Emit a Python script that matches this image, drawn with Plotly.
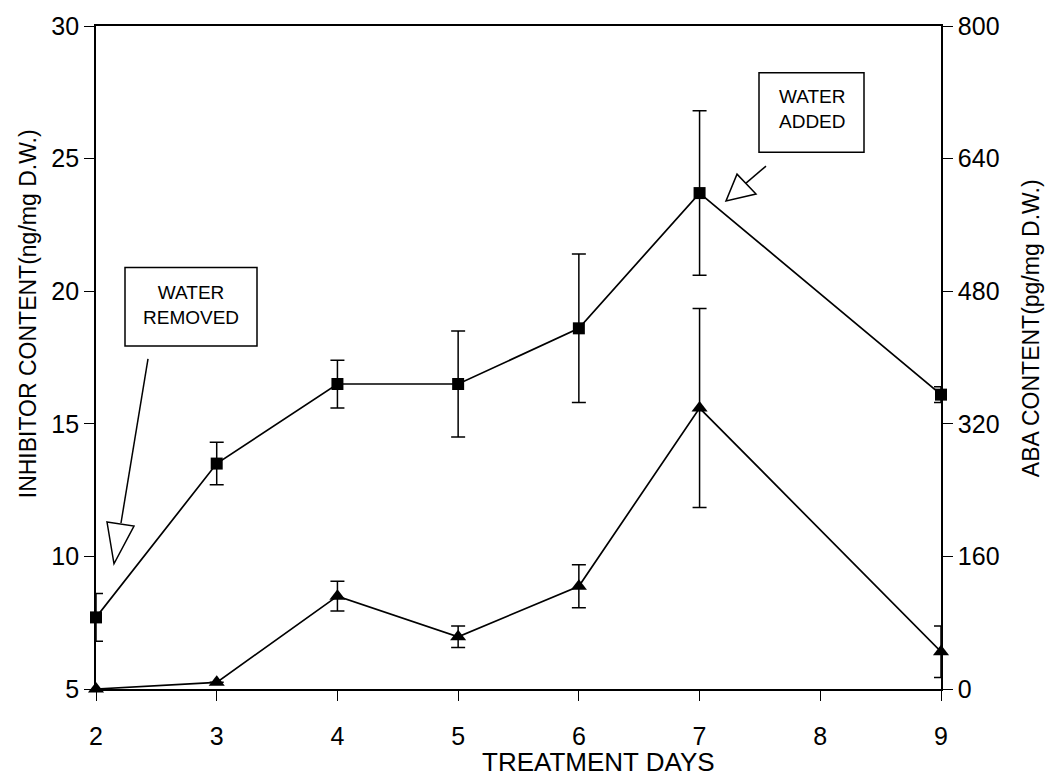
import plotly.graph_objects as go

# ---- data ----
days = [2, 3, 4, 5, 6, 7, 9]
inhibitor = [7.7, 13.5, 16.5, 16.5, 18.6, 23.7, 16.1]      # ng/mg D.W. (left axis)
inhibitor_err = [0.9, 0.8, 0.9, 2.0, 2.8, 3.1, 0.3]
aba = [0, 8, 112, 63, 124, 339, 45]                          # pg/mg D.W. (right axis)
aba_err = [0, 0, 18, 13, 26, 120, 31]

x_ticks = [2, 3, 4, 5, 6, 7, 8, 9]
left_ticks = [5, 10, 15, 20, 25, 30]
right_ticks = [0, 160, 320, 480, 640, 800]

# ---- layout geometry (pixels) ----
W, H = 1051, 779
X0, X1 = 96, 941      # plot left / right
Y0, Y1 = 22, 689      # plot top / bottom


def px(x):
    return (x - X0) / (X1 - X0)


def py(y):
    return (Y1 - y) / (Y1 - Y0)


FONT = "Liberation Sans, Arial, Helvetica, sans-serif"

fig = go.Figure()

fig.add_trace(go.Scatter(
    x=days, y=inhibitor, mode="lines+markers",
    line=dict(color="black", width=1.7),
    marker=dict(symbol="square", size=12, color="black"),
    error_y=dict(type="data", array=inhibitor_err, visible=True,
                 color="black", thickness=1.5, width=7),
    cliponaxis=False, showlegend=False, yaxis="y",
))

fig.add_trace(go.Scatter(
    x=days, y=aba, mode="lines+markers",
    line=dict(color="black", width=1.7),
    marker=dict(symbol="triangle-up", size=14, color="black"),
    error_y=dict(type="data", array=aba_err, visible=True,
                 color="black", thickness=1.5, width=7),
    cliponaxis=False, showlegend=False, yaxis="y2",
))

axis_common = dict(
    showgrid=False, zeroline=False, showline=True, linecolor="black",
    linewidth=1.7, ticks="outside", ticklen=10, tickwidth=1.3,
    tickcolor="black", tickfont=dict(size=25, color="black", family=FONT),
)

fig.update_layout(
    width=W, height=H,
    margin=dict(l=X0, r=W - X1, t=Y0, b=H - Y1, pad=0),
    paper_bgcolor="white", plot_bgcolor="white",
    font=dict(family=FONT, color="black"),
    xaxis=dict(range=[2, 9], tickvals=x_ticks, mirror=True,
               ticklabelstandoff=14, **axis_common),
    yaxis=dict(range=[5, 30], tickvals=left_ticks, **axis_common),
    yaxis2=dict(range=[0, 800], tickvals=right_ticks, overlaying="y",
                side="right", **axis_common),
)


def label(text, cx, cy, size, angle=0):
    fig.add_annotation(text=text, xref="paper", yref="paper",
                       x=px(cx), y=py(cy), xanchor="center", yanchor="middle",
                       textangle=angle, showarrow=False,
                       font=dict(size=size, color="black", family=FONT))


# ---- axis titles ----
label("TREATMENT DAYS", 598, 762, 26)
label("INHIBITOR CONTENT(ng/mg D.W.)", 28, 312, 23, -90)
label("ABA CONTENT(pg/mg D.W.)", 1031, 326, 23, -90)

# ---- callout boxes ----
boxes = [
    dict(x0=125, x1=257, y0=265, y1=344, text="WATER<br>REMOVED", cx=191, cy=303),
    dict(x0=759, x1=864, y0=69, y1=149, text="WATER<br>ADDED", cx=812, cy=106),
]
for b in boxes:
    fig.add_shape(type="rect", xref="paper", yref="paper",
                  x0=px(b["x0"]), x1=px(b["x1"]), y0=py(b["y1"]), y1=py(b["y0"]),
                  line=dict(color="black", width=1.5), fillcolor="white", layer="below")
    label(b["text"], b["cx"], b["cy"], 19)

# ---- open-headed arrows ----
arrows = [
    dict(line=((148, 357), (121, 522)), head=((107, 521), (134, 525), (114, 563))),
    dict(line=((766, 163), (746, 180)), head=((737, 171), (756, 191), (726, 198))),
]
for a in arrows:
    (lx0, ly0), (lx1, ly1) = a["line"]
    fig.add_shape(type="line", xref="paper", yref="paper",
                  x0=px(lx0), y0=py(ly0), x1=px(lx1), y1=py(ly1),
                  line=dict(color="black", width=1.5))
    pts = a["head"]
    path = "M " + " L ".join(f"{px(x):.5f},{py(y):.5f}" for x, y in pts) + " Z"
    fig.add_shape(type="path", xref="paper", yref="paper", path=path,
                  line=dict(color="black", width=1.5), fillcolor="white")

fig.write_html("out.html")
